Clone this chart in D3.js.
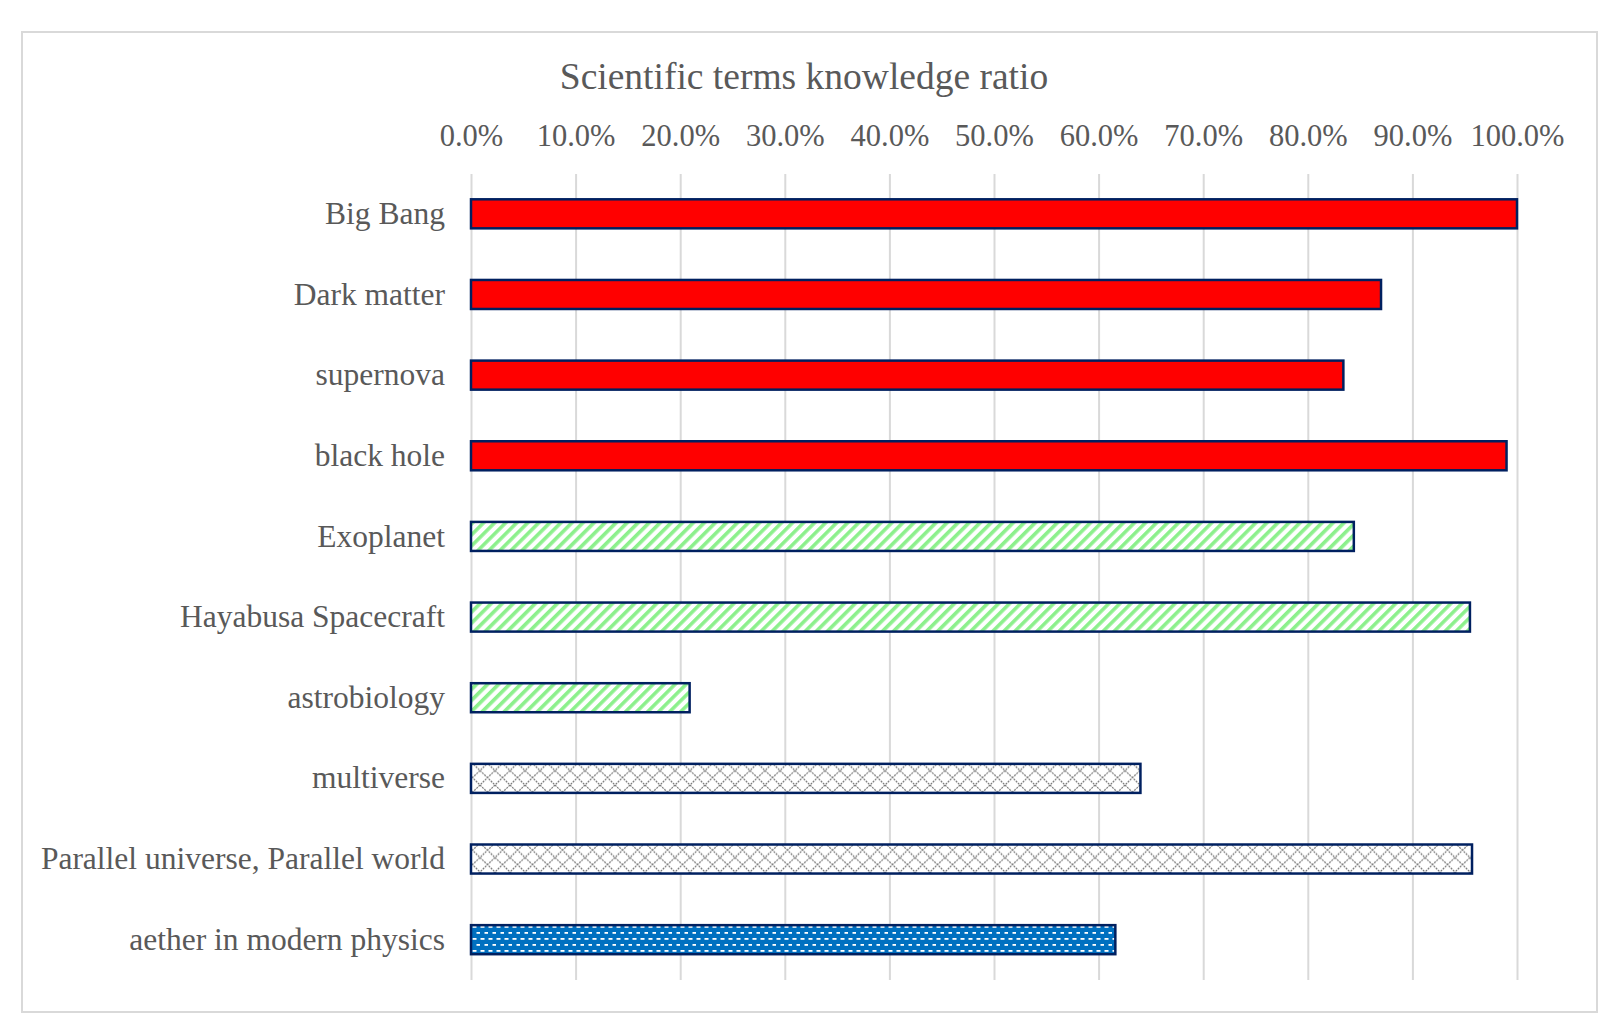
<!DOCTYPE html>
<html>
<head>
<meta charset="utf-8">
<script src="https://d3js.org/d3.v7.min.js"></script>
<style>
  body { margin: 0; background: white; }
  .chart_text { font-family: "Liberation Serif", "Times New Roman", serif; fill: #595959; }
</style>
</head>
<body>
<script>

// chart data
var terms = ["Big Bang", "Dark matter", "supernova", "black hole", "Exoplanet",
             "Hayabusa Spacecraft", "astrobiology", "multiverse",
             "Parallel universe, Parallel world", "aether in modern physics"];
var ratios = [1.000, 0.870, 0.834, 0.990, 0.844, 0.955, 0.209, 0.640, 0.957, 0.616];
// which fill group each term belongs to
var groups = ["solid", "solid", "solid", "solid", "stripes", "stripes", "stripes",
              "lattice", "lattice", "dashes"];
var tickValues = [0, 0.1, 0.2, 0.3, 0.4, 0.5, 0.6, 0.7, 0.8, 0.9, 1.0];
var title = "Scientific terms knowledge ratio";

window.onload = function() {
  var svg = create_chart();
  add_patterns(svg);
  fill_chart(svg);
};

function create_chart() {

  var w = 1613;
  var h = 1022;

  var svg = d3.select("body")
              .append("svg")
              .attr("width", w)
              .attr("height", h);

  // outer frame
  svg.append("rect")
     .attr("x", 22)
     .attr("y", 32)
     .attr("width", 1575)
     .attr("height", 980)
     .style("fill", "white")
     .style("stroke", "#d9d9d9")
     .style("stroke-width", 2);

  // title
  svg.append("text")
     .attr("class", "chart_text")
     .attr("x", 804)
     .attr("y", 89)
     .style("text-anchor", "middle")
     .style("font-size", "37.5px")
     .text(title);

  return svg;
}

function add_patterns(svg) {
  var defs = svg.append("defs");

  // green upward diagonal stripes
  var stripes = defs.append("pattern")
                    .attr("id", "fill_stripes")
                    .attr("patternUnits", "userSpaceOnUse")
                    .attr("width", 7.8)
                    .attr("height", 7.8)
                    .attr("patternTransform", "rotate(45)");
  stripes.append("rect")
         .attr("width", 7.8)
         .attr("height", 7.8)
         .style("fill", "white");
  stripes.append("rect")
         .attr("width", 3.6)
         .attr("height", 7.8)
         .style("fill", "#8cf08c");

  // grey dotted diamond lattice
  var lattice = defs.append("pattern")
                    .attr("id", "fill_lattice")
                    .attr("patternUnits", "userSpaceOnUse")
                    .attr("width", 15)
                    .attr("height", 14.5)
                    .attr("y", 2);
  lattice.append("rect")
         .attr("width", 15)
         .attr("height", 14.5)
         .style("fill", "white");
  lattice.append("path")
         .attr("d", "M0,0L15,14.5M15,0L0,14.5")
         .style("stroke", "#777777")
         .style("stroke-width", 1.2)
         .style("stroke-dasharray", "2,1");

  // blue with small white dashes
  var dashes = defs.append("pattern")
                   .attr("id", "fill_dashes")
                   .attr("patternUnits", "userSpaceOnUse")
                   .attr("width", 8)
                   .attr("height", 12);
  dashes.append("rect")
        .attr("width", 8)
        .attr("height", 12)
        .style("fill", "#0070c0");
  dashes.append("rect")
        .attr("x", 0.5)
        .attr("y", 2)
        .attr("width", 4)
        .attr("height", 1.8)
        .style("fill", "white");
  dashes.append("rect")
        .attr("x", 4.5)
        .attr("y", 8)
        .attr("width", 4)
        .attr("height", 1.8)
        .style("fill", "white");
}

function fill_chart(svg) {

  var fills = {
    solid: "#ff0000",
    stripes: "url(#fill_stripes)",
    lattice: "url(#fill_lattice)",
    dashes: "url(#fill_dashes)"
  };

  // scales
  var xScale = d3.scaleLinear()
                 .domain([0, 1])
                 .range([471, 1517]);

  var yScale = d3.scaleBand()
                 .domain(terms)
                 .range([173.5, 980])
                 .paddingInner(0.64)
                 .paddingOuter(0.32);

  // vertical gridlines
  var grid = svg.append("g")
                .attr("transform", "translate(0, 174)")
                .call(d3.axisTop(xScale)
                        .tickValues(tickValues)
                        .tickSize(-(980 - 174))
                        .tickFormat(""));
  grid.select(".domain").remove();
  grid.selectAll("line")
      .style("stroke", "#d9d9d9")
      .style("stroke-width", 2);

  // percentage labels on top
  var top = svg.append("g")
               .attr("transform", "translate(0, 146)")
               .call(d3.axisTop(xScale)
                       .tickValues(tickValues)
                       .tickSize(0)
                       .tickPadding(0)
                       .tickFormat(d3.format(".1%")));
  top.select(".domain").remove();
  top.selectAll("text")
     .attr("class", "chart_text")
     .style("font-size", "30.5px");

  // term labels
  var left = svg.append("g")
                .attr("transform", "translate(471, 0)")
                .call(d3.axisLeft(yScale)
                        .tickSize(0)
                        .tickPadding(26));
  left.select(".domain").remove();
  left.selectAll("text")
      .attr("class", "chart_text")
      .style("font-size", "31.5px");

  // bars
  svg.selectAll(".bar")
     .data(terms)
     .enter().append("rect")
     .attr("class", "bar")
     .attr("x", xScale(0))
     .attr("y", function(d) {
       return yScale(d);
     })
     .attr("width", function(d, i) {
       return xScale(ratios[i]) - xScale(0);
     })
     .attr("height", yScale.bandwidth())
     .style("fill", function(d, i) {
       return fills[groups[i]];
     })
     .style("stroke", "#002060")
     .style("stroke-width", 2.5);
}
</script>
</body>
</html>
